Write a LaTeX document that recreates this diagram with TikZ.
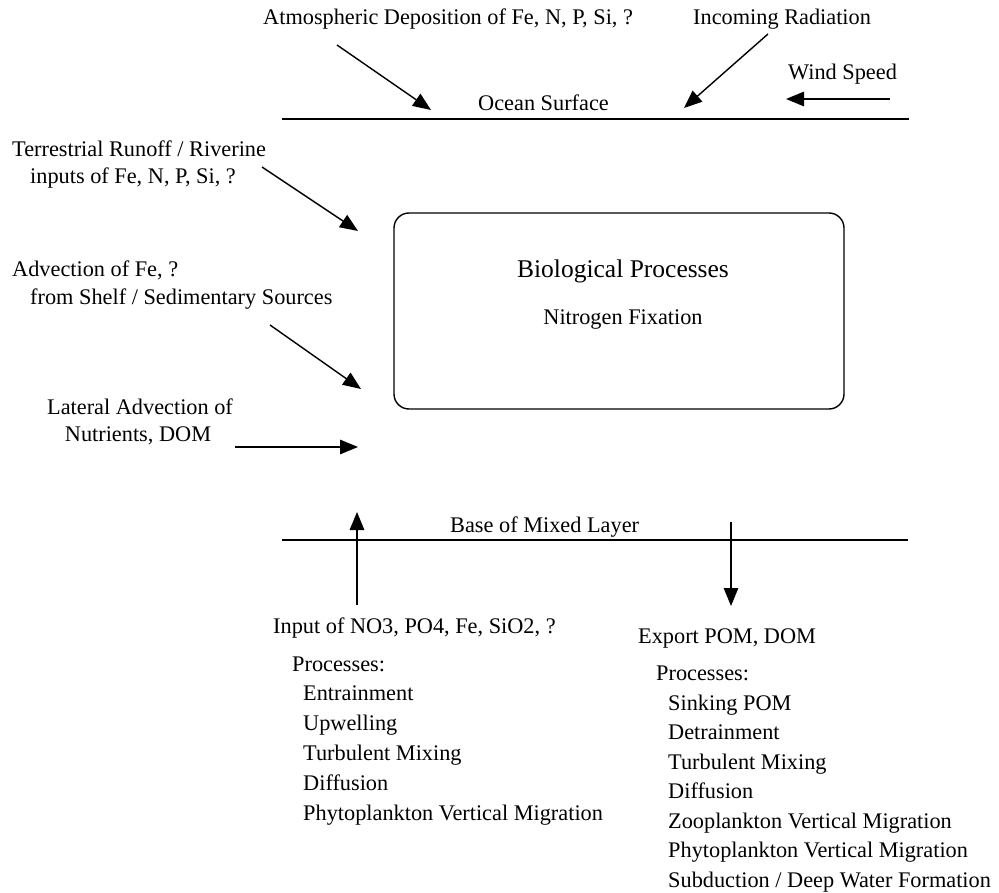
\documentclass[tikz,border=0pt]{standalone}
\usepackage{fontspec}
\setmainfont{Liberation Serif}
\usetikzlibrary{arrows.meta}
\begin{document}
\begin{tikzpicture}[x=1pt,y=-1pt,
  txt/.style={anchor=base west, inner sep=0pt, font=\fontsize{22.3}{27}\selectfont},
  ctxt/.style={anchor=base, inner sep=0pt, font=\fontsize{22.3}{27}\selectfont},
  arr/.style={line width=1.4pt, -{Triangle[length=18pt,width=14.5pt]}},
  layer/.style={line width=1.6pt},
  biobox/.style={draw, line width=1.4pt, rounded corners=15pt, inner sep=0pt}]
\useasboundingbox (0,0) rectangle (999,893);

% surface layer
\coordinate (osL) at (282,119);
\coordinate (osR) at (909,119);
\draw[layer] (osL) -- (osR);
\node[txt] (ocean) at (478,111) {Ocean Surface};

% top labels
\node[txt] (atm) at (263,25) {Atmospheric Deposition of Fe, N, P, Si, ?};
\node[txt] (rad) at (693,25) {Incoming Radiation};
\node[txt] (wind) at (788,80) {Wind Speed};
\coordinate (atmS) at (337,45);
\coordinate (atmE) at (431,110);
\coordinate (radS) at (768,34);
\coordinate (radE) at (684,108);
\coordinate (windS) at (890,99);
\coordinate (windE) at (786,99);
\draw[arr] (atmS) -- (atmE);
\draw[arr] (radS) -- (radE);
\draw[arr] (windS) -- (windE);

% box
\node[biobox, minimum width=450pt, minimum height=196pt] (bio) at (619,311) {};
\node[anchor=base, inner sep=0pt, font=\fontsize{25.5}{30}\selectfont] (biot) at (623,278) {Biological Processes};
\node[ctxt] (nfix) at (623,325) {Nitrogen Fixation};

% left labels
\node[txt] (ter1) at (12,157) {Terrestrial Runoff / Riverine};
\node[txt] (ter2) at (30,184) {inputs of Fe, N, P, Si, ?};
\node[txt] (adv1) at (12,277) {Advection of Fe, ?};
\node[txt] (adv2) at (30,305) {from Shelf / Sedimentary Sources};
\node[ctxt] (lat1) at (140,414) {Lateral Advection of};
\node[ctxt] (lat2) at (138,441) {Nutrients, DOM};
\coordinate (terS) at (262,167);
\coordinate (terE) at (358,231);
\coordinate (advS) at (270,325);
\coordinate (advE) at (361,389);
\coordinate (latS) at (235,447);
\coordinate (latE) at (358,447);
\draw[arr] (terS) -- (terE);
\draw[arr] (advS) -- (advE);
\draw[arr] (latS) -- (latE);

% base of mixed layer
\coordinate (mlL) at (282,540);
\coordinate (mlR) at (908,540);
\draw[layer] (mlL) -- (mlR);
\node[txt] (base) at (450,532) {Base of Mixed Layer};
\coordinate (upS) at (357,605);
\coordinate (upE) at (357,512);
\coordinate (dnS) at (731,522);
\coordinate (dnE) at (731,606);
\draw[arr] (upS) -- (upE);
\draw[arr] (dnS) -- (dnE);

% input column
\node[txt] (inp) at (273,633) {Input of NO3, PO4, Fe, SiO2, ?};
\node[txt] (inpP) at (292,671) {Processes:};
\node[txt] (in1) at (303,700) {Entrainment};
\node[txt] (in2) at (303,730) {Upwelling};
\node[txt] (in3) at (303,760) {Turbulent Mixing};
\node[txt] (in4) at (303,790) {Diffusion};
\node[txt] (in5) at (303,820) {Phytoplankton Vertical Migration};

% export column
\node[txt] (exp) at (638,643) {Export POM, DOM};
\node[txt] (expP) at (656,680) {Processes:};
\node[txt] (ex1) at (668,710) {Sinking POM};
\node[txt] (ex2) at (668,739.5) {Detrainment};
\node[txt] (ex3) at (668,769) {Turbulent Mixing};
\node[txt] (ex4) at (668,798.5) {Diffusion};
\node[txt] (ex5) at (668,828) {Zooplankton Vertical Migration};
\node[txt] (ex6) at (668,857.5) {Phytoplankton Vertical Migration};
\node[txt] (ex7) at (668,887) {Subduction / Deep Water Formation};
\end{tikzpicture}
\end{document}
